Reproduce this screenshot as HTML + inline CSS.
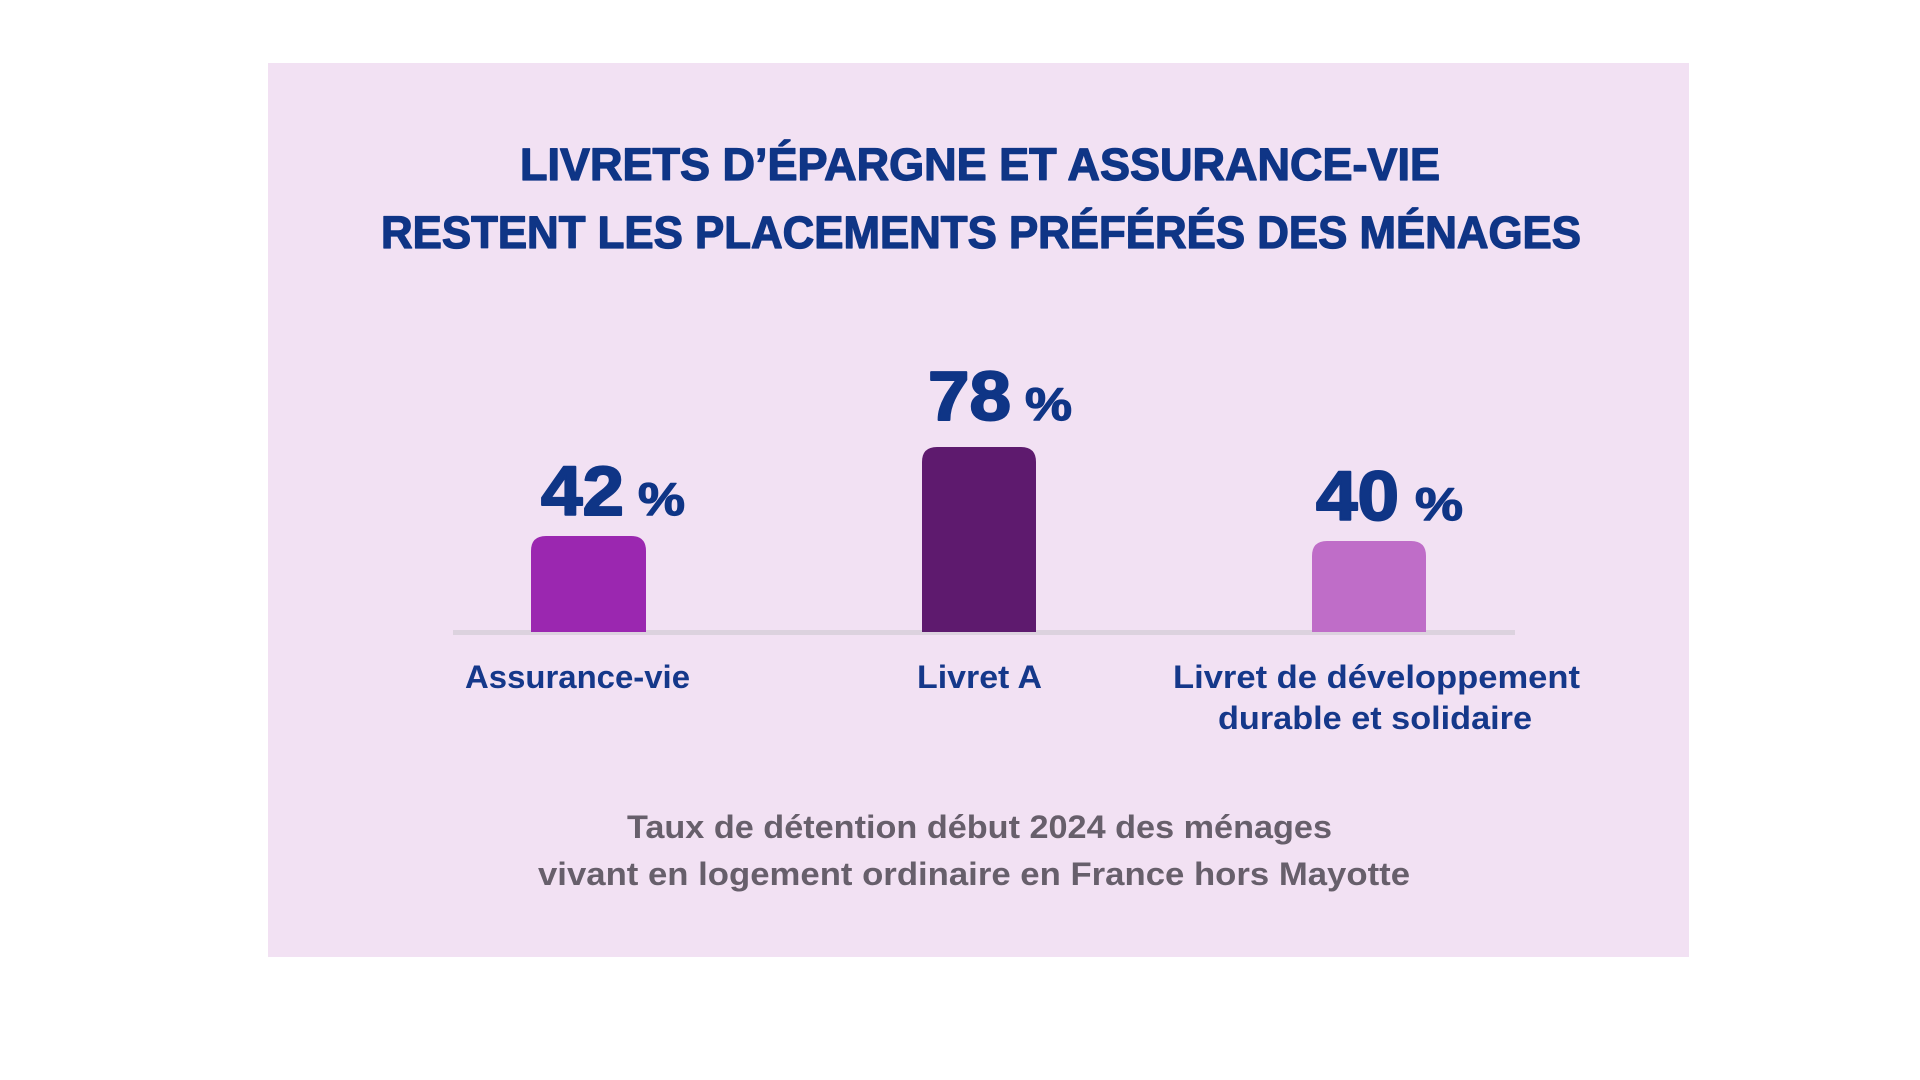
<!DOCTYPE html>
<html>
<head>
<meta charset="utf-8">
<style>
html,body{margin:0;padding:0;background:#ffffff;width:1920px;height:1080px;overflow:hidden;}
svg{display:block;}
text{font-family:"Liberation Sans", Arial, sans-serif;}
</style>
</head>
<body>
<svg width="1920" height="1080" viewBox="0 0 1920 1080" xmlns="http://www.w3.org/2000/svg">
  <rect x="0" y="0" width="1920" height="1080" fill="#ffffff"/>
  <!-- panel -->
  <rect x="268" y="63" width="1421" height="894" fill="#f2e1f3"/>

  <!-- title -->
  <g fill="#0f3586" stroke="#0f3586" stroke-width="1.3" stroke-linejoin="round">
  <text x="520" y="180" font-size="45" font-weight="bold" textLength="920" lengthAdjust="spacingAndGlyphs">LIVRETS D’ÉPARGNE ET ASSURANCE-VIE</text>
  <text x="381" y="248" font-size="45" font-weight="bold" textLength="1200" lengthAdjust="spacingAndGlyphs">RESTENT LES PLACEMENTS PRÉFÉRÉS DES MÉNAGES</text>
  </g>

  <!-- baseline line -->
  <rect x="453" y="630" width="1062" height="5" fill="#dcd2de"/>

  <!-- bars -->
  <path d="M531,632 L531,551 Q531,536 546,536 L631,536 Q646,536 646,551 L646,632 Z" fill="#9b27b0"/>
  <path d="M922,632 L922,462 Q922,447 937,447 L1021,447 Q1036,447 1036,462 L1036,632 Z" fill="#5e1a6e"/>
  <path d="M1312,632 L1312,556 Q1312,541 1327,541 L1411,541 Q1426,541 1426,556 L1426,632 Z" fill="#bf6dc8"/>

  <!-- values -->
  <g fill="#0f3586" stroke="#0f3586" stroke-linejoin="round">
  <text x="541" y="515" font-size="70" font-weight="bold" stroke-width="2" textLength="83" lengthAdjust="spacingAndGlyphs">42</text>
  <text x="638" y="515" font-size="46" font-weight="bold" stroke-width="1.2" textLength="47" lengthAdjust="spacingAndGlyphs">%</text>

  <text x="928" y="420" font-size="70" font-weight="bold" stroke-width="2" textLength="83" lengthAdjust="spacingAndGlyphs">78</text>
  <text x="1025" y="420" font-size="46" font-weight="bold" stroke-width="1.2" textLength="47" lengthAdjust="spacingAndGlyphs">%</text>

  <text x="1316" y="520" font-size="70" font-weight="bold" stroke-width="2" textLength="83" lengthAdjust="spacingAndGlyphs">40</text>
  <text x="1415" y="520" font-size="46" font-weight="bold" stroke-width="1.2" textLength="48" lengthAdjust="spacingAndGlyphs">%</text>
  </g>

  <!-- category labels -->
  <text x="465" y="688" font-size="32" font-weight="bold" fill="#15388a" textLength="225" lengthAdjust="spacingAndGlyphs">Assurance-vie</text>
  <text x="917" y="688" font-size="32" font-weight="bold" fill="#15388a" textLength="125" lengthAdjust="spacingAndGlyphs">Livret A</text>
  <text x="1173" y="688" font-size="32" font-weight="bold" fill="#15388a" textLength="407" lengthAdjust="spacingAndGlyphs">Livret de développement</text>
  <text x="1218" y="729" font-size="32" font-weight="bold" fill="#15388a" textLength="314" lengthAdjust="spacingAndGlyphs">durable et solidaire</text>

  <!-- footnote -->
  <text x="627" y="838" font-size="32" fill="#675f6b" font-weight="bold" textLength="705" lengthAdjust="spacingAndGlyphs">Taux de détention début 2024 des ménages</text>
  <text x="538" y="885" font-size="32" fill="#675f6b" font-weight="bold" textLength="872" lengthAdjust="spacingAndGlyphs">vivant en logement ordinaire en France hors Mayotte</text>
</svg>
</body>
</html>
